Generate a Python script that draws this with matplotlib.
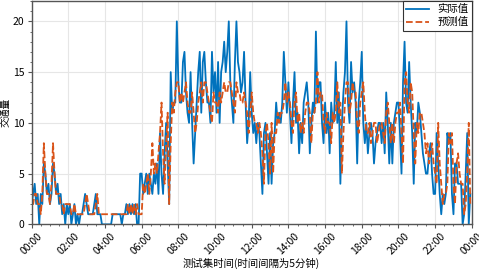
import numpy as np
import pandas as pd
import matplotlib
matplotlib.use("Agg")
import matplotlib.pyplot as plt
import matplotlib.dates as mdates
from matplotlib.ticker import MultipleLocator

plt.rcParams["font.family"] = ["Noto Sans CJK SC", "DejaVu Sans"]
plt.rcParams["axes.unicode_minus"] = False

# 实际值 (5分钟间隔, 288个点)
actual = [
    2, 3, 4, 2, 3, 0, 3, 2, 6, 5, 3, 4,
    2, 3, 6, 5, 3, 4, 2, 3, 1, 2, 0, 2,
    1, 2, 0, 1, 2, 0, 1, 0, 1, 1, 2, 3,
    2, 1, 1, 1, 1, 2, 3, 1, 1, 1, 0, 0,
    0, 0, 0, 0, 0, 1, 1, 1, 1, 1, 1, 0,
    1, 1, 2, 1, 2, 1, 2, 1, 2, 0, 0, 5,
    5, 3, 4, 5, 3, 5, 4, 3, 5, 4, 6, 3,
    9, 5, 3, 7, 10, 6, 2, 15, 11, 12, 12, 20,
    14, 12, 12, 16, 17, 13, 11, 10, 15, 10, 6, 9,
    12, 15, 17, 11, 16, 17, 14, 12, 12, 10, 17, 13,
    15, 11, 16, 10, 15, 16, 18, 15, 17, 20, 14, 12,
    10, 16, 20, 16, 15, 13, 14, 17, 12, 8, 10, 15,
    11, 9, 10, 8, 10, 9, 6, 3, 9, 10, 7, 4,
    9, 4, 8, 9, 12, 10, 11, 10, 12, 17, 14, 11,
    14, 11, 8, 12, 15, 10, 11, 7, 10, 8, 12, 13,
    14, 12, 7, 10, 12, 11, 19, 12, 14, 14, 10, 8,
    12, 9, 11, 7, 12, 10, 11, 16, 10, 13, 4, 10,
    13, 15, 20, 12, 10, 16, 13, 14, 12, 6, 12, 14,
    17, 10, 8, 10, 7, 9, 10, 9, 6, 8, 9, 10,
    10, 8, 10, 7, 13, 10, 6, 10, 6, 10, 11, 12,
    12, 9, 5, 14, 18, 12, 11, 16, 12, 9, 4, 10,
    9, 12, 11, 9, 7, 6, 5, 5, 7, 8, 5, 3,
    3, 9, 6, 3, 1, 3, 2, 3, 9, 8, 9, 3,
    1, 6, 6, 4, 4, 4, 0, 1, 5, 9, 0, 3,
]

# 预测值
predicted = [
    2, 2, 3, 3, 2, 2, 1, 3, 8, 5, 3, 3,
    2, 4, 8, 5, 3, 3, 3, 2, 2, 1, 2, 2,
    2, 2, 1, 1, 2, 1, 1, 1, 1, 1, 1, 2,
    3, 2, 1, 1, 1, 1, 2, 3, 1, 1, 1, 1,
    1, 1, 1, 1, 1, 1, 1, 1, 1, 1, 1, 1,
    1, 1, 1, 2, 1, 2, 1, 2, 1, 2, 1, 1,
    1, 4, 3, 4, 5, 3, 5, 8, 5, 6, 5, 7,
    9, 12, 7, 4, 8, 11, 2, 8, 12, 11, 13, 14,
    14, 12, 13, 12, 13, 14, 12, 11, 11, 13, 11, 9,
    10, 12, 13, 14, 12, 14, 14, 13, 12, 11, 10, 13,
    12, 12, 11, 13, 12, 13, 14, 13, 13, 14, 14, 13,
    12, 11, 14, 13, 13, 12, 12, 13, 12, 11, 9, 11,
    13, 11, 10, 10, 9, 10, 9, 7, 4, 9, 10, 8,
    5, 10, 5, 9, 9, 11, 10, 11, 11, 12, 14, 12,
    13, 12, 10, 9, 12, 13, 10, 11, 9, 10, 9, 11,
    12, 12, 11, 8, 11, 11, 12, 15, 12, 13, 13, 10,
    9, 11, 10, 10, 8, 11, 10, 11, 14, 11, 12, 5,
    9, 12, 14, 14, 11, 12, 14, 13, 13, 10, 9, 12,
    13, 14, 11, 9, 9, 10, 8, 9, 10, 10, 8, 9,
    10, 10, 9, 8, 11, 12, 10, 8, 10, 8, 10, 11,
    11, 12, 9, 6, 14, 15, 12, 11, 14, 13, 9, 6,
    10, 9, 11, 11, 10, 9, 7, 8, 6, 7, 8, 6,
    5, 4, 10, 6, 4, 2, 3, 3, 4, 9, 8, 9,
    4, 2, 6, 7, 5, 4, 4, 1, 2, 5, 10, 2,
]

times = pd.date_range("2020-01-01 00:00", periods=len(actual), freq="5min")
start = times[0]
end = start + pd.Timedelta(hours=24)

fig, ax = plt.subplots(figsize=(4.79, 2.70), dpi=100)
fig.subplots_adjust(left=0.066, right=0.985, top=0.996, bottom=0.169)

ax.plot(times, actual, color="#0072BD", lw=1.3, label="实际值")
ax.plot(times, predicted, color="#D95319", lw=1.3, ls="--", label="预测值")

ax.set_xlim(start, end)
ax.set_ylim(0, 22)
ax.xaxis.set_major_locator(mdates.HourLocator(interval=2))
ax.xaxis.set_major_formatter(mdates.DateFormatter("%H:%M"))
ax.xaxis.set_minor_locator(mdates.MinuteLocator(byminute=[0, 30]))
ax.yaxis.set_major_locator(MultipleLocator(5))
ax.yaxis.set_minor_locator(MultipleLocator(1))

ax.grid(True, which="major", color="#e6e6e6", lw=0.8)
ax.set_axisbelow(True)
for s in ax.spines.values():
    s.set_color("#555555")
    s.set_linewidth(1.0)
ax.tick_params(axis="both", which="major", labelsize=7.5, length=3, width=0.8,
               color="#555555", pad=2)
ax.tick_params(axis="both", which="minor", length=1.5, width=0.6, color="#555555")
plt.setp(ax.get_xticklabels(), rotation=45)

ax.set_xlabel("测试集时间(时间间隔为5分钟)", fontsize=7.5, labelpad=1)
ax.set_ylabel("交通量", fontsize=7)
ax.yaxis.set_label_coords(-0.049, 0.5)

leg = ax.legend(loc="upper right", fontsize=7.5, fancybox=False, framealpha=1,
                edgecolor="#333333", borderaxespad=0.0, handlelength=2.2,
                borderpad=0.3, labelspacing=0.3)
leg.get_frame().set_linewidth(0.8)

fig.savefig("out.png", dpi=100)
